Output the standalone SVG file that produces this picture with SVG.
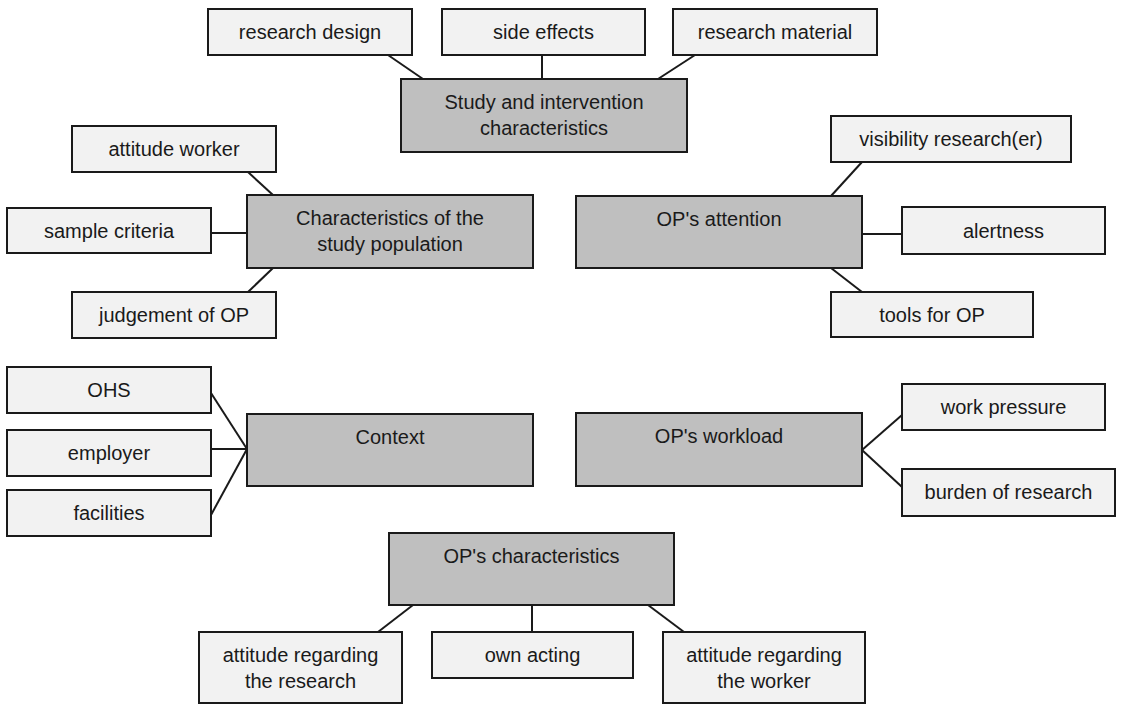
<svg xmlns="http://www.w3.org/2000/svg" width="1121" height="705" viewBox="0 0 1121 705">
<style>
.l{fill:#f2f2f2;stroke:#1a1a1a;stroke-width:2}
.g{fill:#bfbfbf;stroke:#1a1a1a;stroke-width:2}
text{font-family:"Liberation Sans",Arial,sans-serif;font-size:20px;fill:#1a1a1a;text-anchor:middle}
.c line{stroke:#1a1a1a;stroke-width:2}
</style>
<rect width="1121" height="705" fill="#fff"/>
<g class="c" id="connectors">
<line x1="388" y1="55" x2="423" y2="79"/>
<line x1="542" y1="55" x2="542" y2="79"/>
<line x1="695" y1="55" x2="658" y2="79"/>
<line x1="248" y1="172" x2="273" y2="195"/>
<line x1="211" y1="233" x2="247" y2="233"/>
<line x1="248" y1="292" x2="273" y2="268"/>
<line x1="862" y1="162" x2="831" y2="196"/>
<line x1="862" y1="234" x2="902" y2="234"/>
<line x1="831" y1="268" x2="862" y2="292"/>
<line x1="211" y1="393" x2="247" y2="449"/>
<line x1="211" y1="449" x2="247" y2="449"/>
<line x1="211" y1="515" x2="247" y2="449"/>
<line x1="862" y1="450" x2="902" y2="415"/>
<line x1="862" y1="450" x2="902" y2="487"/>
<line x1="413" y1="605" x2="378" y2="632"/>
<line x1="532" y1="605" x2="532" y2="632"/>
<line x1="648" y1="605" x2="684" y2="632"/>
</g>
<g id="research-design"><rect class="l" x="208" y="9" width="204" height="46"/><text x="310" y="39">research design</text></g>
<g id="side-effects"><rect class="l" x="442" y="9" width="203" height="46"/><text x="543.5" y="39">side effects</text></g>
<g id="research-material"><rect class="l" x="673" y="9" width="204" height="46"/><text x="775" y="39">research material</text></g>
<g id="study"><rect class="g" x="401" y="79" width="286" height="73"/><text x="544" y="109">Study and intervention</text><text x="544" y="135">characteristics</text></g>
<g id="attitude-worker"><rect class="l" x="72" y="126" width="204" height="46"/><text x="174" y="156">attitude worker</text></g>
<g id="sample-criteria"><rect class="l" x="7" y="208" width="204" height="45"/><text x="109" y="238">sample criteria</text></g>
<g id="population"><rect class="g" x="247" y="195" width="286" height="73"/><text x="390" y="225">Characteristics of the</text><text x="390" y="251">study population</text></g>
<g id="judgement"><rect class="l" x="72" y="292" width="204" height="46"/><text x="174" y="322">judgement of OP</text></g>
<g id="visibility"><rect class="l" x="831" y="116" width="240" height="46"/><text x="951" y="146">visibility research(er)</text></g>
<g id="attention"><rect class="g" x="576" y="196" width="286" height="72"/><text x="719" y="226">OP's attention</text></g>
<g id="alertness"><rect class="l" x="902" y="207" width="203" height="47"/><text x="1003.5" y="238">alertness</text></g>
<g id="tools"><rect class="l" x="831" y="292" width="202" height="45"/><text x="932" y="322">tools for OP</text></g>
<g id="ohs"><rect class="l" x="7" y="367" width="204" height="46"/><text x="109" y="397">OHS</text></g>
<g id="employer"><rect class="l" x="7" y="430" width="204" height="46"/><text x="109" y="460">employer</text></g>
<g id="facilities"><rect class="l" x="7" y="490" width="204" height="46"/><text x="109" y="520">facilities</text></g>
<g id="context"><rect class="g" x="247" y="414" width="286" height="72"/><text x="390" y="444">Context</text></g>
<g id="workload"><rect class="g" x="576" y="413" width="286" height="73"/><text x="719" y="443">OP's workload</text></g>
<g id="work-pressure"><rect class="l" x="902" y="384" width="203" height="46"/><text x="1003.5" y="414">work pressure</text></g>
<g id="burden"><rect class="l" x="902" y="469" width="213" height="47"/><text x="1008.5" y="499">burden of research</text></g>
<g id="op-char"><rect class="g" x="389" y="533" width="285" height="72"/><text x="531.5" y="563">OP's characteristics</text></g>
<g id="att-research"><rect class="l" x="199" y="632" width="203" height="71"/><text x="300.5" y="662">attitude regarding</text><text x="300.5" y="688">the research</text></g>
<g id="own-acting"><rect class="l" x="432" y="632" width="201" height="46"/><text x="532.5" y="662">own acting</text></g>
<g id="att-worker"><rect class="l" x="663" y="632" width="202" height="71"/><text x="764" y="662">attitude regarding</text><text x="764" y="688">the worker</text></g>
</svg>
